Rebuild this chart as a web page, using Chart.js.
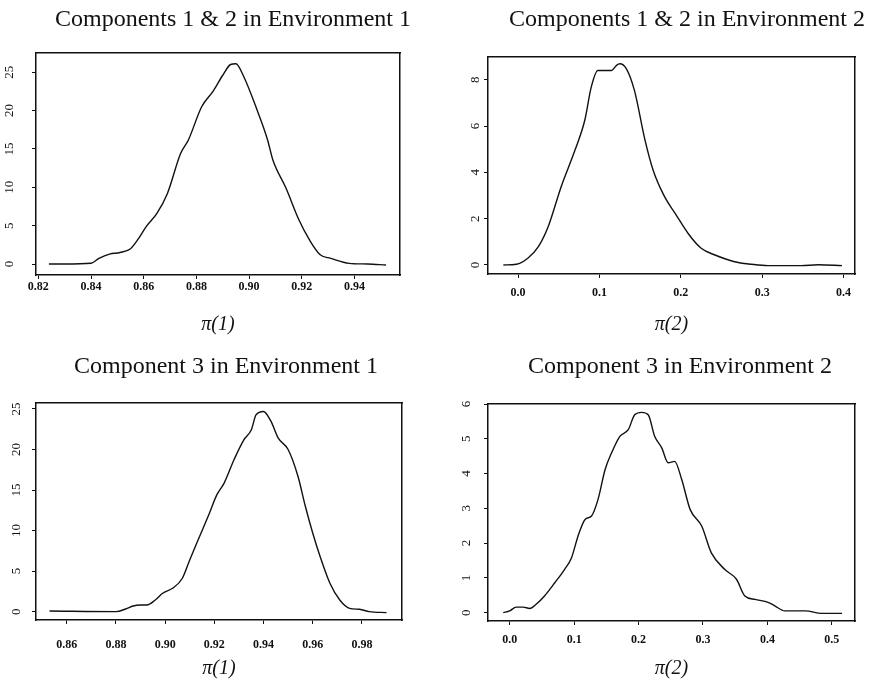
<!DOCTYPE html>
<html>
<head>
<meta charset="utf-8">
<script src="https://cdn.jsdelivr.net/npm/chart.js@4.4.1/dist/chart.umd.min.js"></script>
<style>
  html, body { margin: 0; padding: 0; background: #fff; }
  #wrap { position: relative; width: 871px; height: 686px; overflow: hidden; }
  #wrap canvas { position: absolute; }
</style>
</head>
<body>
<div id="wrap">
  <canvas id="c1" width="435" height="343" style="left:0px;top:0px"></canvas>
  <canvas id="c2" width="436" height="343" style="left:435px;top:0px"></canvas>
  <canvas id="c3" width="435" height="343" style="left:0px;top:343px"></canvas>
  <canvas id="c4" width="436" height="343" style="left:435px;top:343px"></canvas>
</div>
<script>
// density curves
const env1AX = [0.824, 0.830, 0.840, 0.843, 0.847, 0.851, 0.855, 0.858, 0.861, 0.865, 0.869, 0.874, 0.877, 0.882, 0.8865, 0.890, 0.893, 0.895, 0.898, 0.903, 0.907, 0.909, 0.914, 0.919, 0.923, 0.927, 0.931, 0.938, 0.945, 0.952];
const env1AY = [0, 0, 0.1, 0.74, 1.3, 1.5, 2.0, 3.3, 4.9, 6.6, 9.2, 14.4, 16.2, 20.5, 22.6, 24.6, 26.0, 26.1, 24.4, 20.1, 16.2, 13.6, 9.9, 5.7, 3.1, 1.2, 0.74, 0.09, 0, -0.13];

const env2AX = [-0.018, -0.002, 0.012, 0.025, 0.037, 0.053, 0.070, 0.082, 0.090, 0.098, 0.115, 0.121, 0.125, 0.133, 0.143, 0.156, 0.166, 0.180, 0.193, 0.209, 0.225, 0.242, 0.266, 0.287, 0.307, 0.348, 0.369, 0.398];
const env2AY = [0, 0.03, 0.29, 0.79, 1.65, 3.38, 4.96, 6.25, 7.69, 8.4, 8.4, 8.62, 8.69, 8.48, 7.54, 5.39, 4.09, 2.95, 2.23, 1.36, 0.72, 0.43, 0.14, 0.03, -0.03, -0.03, 0.01, -0.03];

const env1BX = [0.853, 0.880, 0.884, 0.887, 0.890, 0.8925, 0.896, 0.899, 0.903, 0.907, 0.910, 0.914, 0.918, 0.921, 0.924, 0.928, 0.932, 0.935, 0.937, 0.940, 0.943, 0.946, 0.950, 0.954, 0.957, 0.960, 0.963, 0.967, 0.971, 0.975, 0.979, 0.983, 0.990];
const env1BY = [0.08, 0, 0.33, 0.7, 0.82, 0.82, 1.44, 2.27, 2.88, 4.12, 6.38, 9.27, 12.15, 14.4, 15.86, 18.74, 21.2, 22.4, 24.3, 24.7, 23.5, 21.4, 20.0, 16.7, 13.0, 9.7, 6.8, 3.5, 1.44, 0.41, 0.29, 0, -0.12];

const env2BX = [-0.010, 0.000, 0.010, 0.021, 0.031, 0.041, 0.054, 0.070, 0.085, 0.096, 0.106, 0.117, 0.127, 0.137, 0.148, 0.158, 0.171, 0.184, 0.194, 0.205, 0.215, 0.225, 0.236, 0.246, 0.256, 0.267, 0.280, 0.298, 0.313, 0.334, 0.352, 0.365, 0.381, 0.402, 0.412, 0.427, 0.459, 0.484, 0.516];
const env2BY = [0, 0.05, 0.16, 0.16, 0.12, 0.24, 0.48, 0.86, 1.24, 1.58, 2.2, 2.68, 2.78, 3.25, 4.11, 4.59, 5.07, 5.26, 5.69, 5.76, 5.69, 5.07, 4.74, 4.31, 4.35, 3.83, 2.97, 2.49, 1.72, 1.24, 0.96, 0.48, 0.38, 0.29, 0.19, 0.05, 0.05, -0.02, -0.02];

// tick labels
const xTicks1A = ['0.82', '0.84', '0.86', '0.88', '0.90', '0.92', '0.94'];
const xTicks2A = ['0.0', '0.1', '0.2', '0.3', '0.4'];
const xTicks1B = ['0.86', '0.88', '0.90', '0.92', '0.94', '0.96', '0.98'];
const xTicks2B = ['0.0', '0.1', '0.2', '0.3', '0.4', '0.5'];
const yTicks1A = ['0', '5', '10', '15', '20', '25'];
const yTicks2A = ['0', '2', '4', '6', '8'];
const yTicks1B = ['0', '5', '10', '15', '20', '25'];
const yTicks2B = ['0', '1', '2', '3', '4', '5', '6'];

const serif = '"Liberation Serif", "Times New Roman", serif';
const ink = '#111';

const edge = (pos, size) => ({
    position: pos,
    display: true,
    ticks: { display: false },
    grid: { display: false },
    border: { display: true, color: ink, width: 1.5 },
    afterFit: s => {
        if (pos === 'top') s.height = size; else s.width = size;
    }
});

function panel(id, o) {
    const pts = o.xs.map((x, i) => ({ x: x, y: o.ys[i] }));
    return new Chart(document.getElementById(id), {
        type: 'scatter',
        data: {
            datasets: [{
                data: pts,
                showLine: true,
                pointRadius: 0,
                borderColor: ink,
                borderWidth: 1.4,
                cubicInterpolationMode: 'monotone'
            }]
        },
        options: {
            responsive: false,
            animation: false,
            layout: { padding: { left: 0, top: 0, bottom: 0, right: o.pr } },
            plugins: {
                legend: { display: false },
                tooltip: { enabled: false },
                title: {
                    display: true,
                    text: o.title,
                    color: ink,
                    font: { family: serif, size: 24, weight: 'normal', lineHeight: 1.2 },
                    padding: { top: o.tpt, bottom: o.tpb }
                }
            },
            scales: {
                x: {
                    type: 'linear',
                    min: o.xMin,
                    max: o.xMax,
                    afterBuildTicks: ax => { ax.ticks = o.xTicks.map(t => ({ value: +t })); },
                    afterFit: s => { s.height = o.xh; },
                    ticks: {
                        autoSkip: false,
                        maxRotation: 0,
                        padding: o.xtp,
                        color: ink,
                        font: { family: serif, size: 12, weight: 'bold' },
                        callback: (v, i) => o.xTicks[i]
                    },
                    grid: { drawOnChartArea: false, drawTicks: true, tickLength: 4, tickColor: ink, tickWidth: 1 },
                    border: { display: true, color: ink, width: 1.5 },
                    title: {
                        display: true,
                        text: o.xLabel,
                        color: ink,
                        font: { family: serif, size: 20, style: 'italic', lineHeight: 1.2 },
                        padding: { top: 0, bottom: o.xlb }
                    }
                },
                y: {
                    type: 'linear',
                    min: o.yMin,
                    max: o.yMax,
                    afterBuildTicks: ax => { ax.ticks = o.yTicks.map(t => ({ value: +t })); },
                    afterFit: s => { s.width = o.yw; },
                    ticks: {
                        autoSkip: false,
                        minRotation: 90,
                        maxRotation: 90,
                        crossAlign: 'center',
                        padding: o.ytp,
                        color: ink,
                        font: { family: serif, size: 13 },
                        callback: (v, i) => o.yTicks[i]
                    },
                    grid: { drawOnChartArea: false, drawTicks: true, tickLength: 4, tickColor: ink, tickWidth: 1 },
                    border: { display: true, color: ink, width: 1.5 }
                },
                xt: edge('top', 0),
                yr: edge('right', o.rw)
            }
        }
    });
}

panel('c1', {
    xs: env1AX, ys: env1AY, xTicks: xTicks1A, yTicks: yTicks1A,
    title: 'Components 1 & 2 in Environment 1', xLabel: 'π(1)',
    xMin: 0.8191, xMax: 0.9573, yMin: -1.43, yMax: 27.5,
    pr: -31, rw: 66, yw: 36, xh: 68, tpt: 5.6, tpb: 18.6, xtp: 1, ytp: 15.5, xlb: 6
});

panel('c2', {
    xs: env2AX, ys: env2AY, xTicks: xTicks2A, yTicks: yTicks2A,
    title: 'Components 1 & 2 in Environment 2', xLabel: 'π(2)',
    xMin: -0.0369, xMax: 0.414, yMin: -0.39, yMax: 8.98,
    pr: -68, rw: 84, yw: 53, xh: 69, tpt: 5.6, tpb: 22.6, xtp: 8, ytp: 4.75, xlb: 6
});

panel('c3', {
    xs: env1BX, ys: env1BY, xTicks: xTicks1B, yTicks: yTicks1B,
    title: 'Component 3 in Environment 1', xLabel: 'π(1)',
    xMin: 0.8475, xMax: 0.9963, yMin: -1.03, yMax: 25.74,
    pr: -17, rw: 50, yw: 36, xh: 66, tpt: 9.1, tpb: 22.1, xtp: 14, ytp: 8.5, xlb: 5
});

panel('c4', {
    xs: env2BX, ys: env2BY, xTicks: xTicks2B, yTicks: yTicks2B,
    title: 'Component 3 in Environment 2', xLabel: 'π(2)',
    xMin: -0.0337, xMax: 0.536, yMin: -0.24, yMax: 6.0,
    pr: -54, rw: 70, yw: 53, xh: 65, tpt: 9.1, tpb: 23.1, xtp: 8, ytp: 13.75, xlb: 5
});
</script>
</body>
</html>
